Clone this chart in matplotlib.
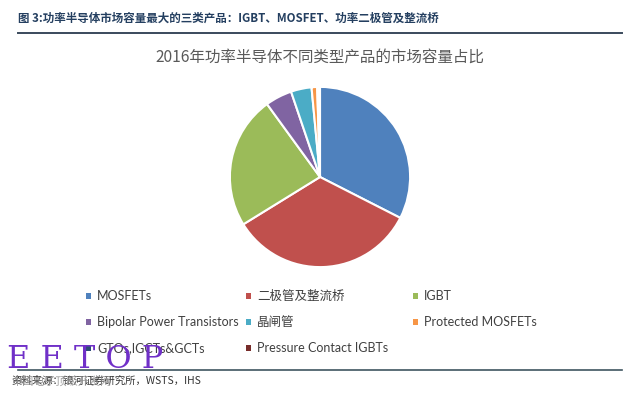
import matplotlib
matplotlib.use("Agg")
import matplotlib.pyplot as plt
from matplotlib.patches import Rectangle

# 2016 power semiconductor market share by product type
labels = ["MOSFETs", "二极管及整流桥", "IGBT", "Bipolar Power Transistors",
          "晶闸管", "Protected MOSFETs", "GTOs,IGCTs&GCTs", "Pressure Contact IGBTs"]
shares = [32.5, 33.7, 23.8, 4.8, 3.7, 1.0, 0.3, 0.2]
colors = ["#4F81BD", "#C0504D", "#9BBB59", "#8064A2",
          "#4BACC6", "#F79646", "#2C4D75", "#772C2A"]

header = "图 3:功率半导体市场容量最大的三类产品：IGBT、MOSFET、功率二极管及整流桥"
title = "2016年功率半导体不同类型产品的市场容量占比"
source = "资料来源：银河证券研究所，WSTS，IHS"

cjk = ["Noto Sans CJK SC", "DejaVu Sans"]
latin = ["Lato", "Noto Sans CJK SC"]

fig = plt.figure(figsize=(6.4, 3.96), dpi=100)
W, H = 640, 396

def fx(px):
    return px / W

def fy(py):
    return 1 - py / H

# header and rules
fig.text(fx(18), fy(18), header, family=cjk, fontsize=8.3, fontweight="bold",
         color="#243F60", va="center", ha="left")
fig.add_artist(plt.Line2D([fx(18), fx(622)], [fy(33), fy(33)], color="#3A4A5C", lw=1.4))
fig.add_artist(plt.Line2D([fx(18), fx(622)], [fy(370), fy(370)], color="#3E5560", lw=1.2))

fig.text(0.5, fy(57), title, family=cjk, fontsize=11.2, color="#595959",
         ha="center", va="center")

# pie
ax = fig.add_axes([fx(229), fy(268), fx(182), 182 / H])
wedges, _ = ax.pie(shares, colors=colors, startangle=90, counterclock=False,
                   wedgeprops=dict(edgecolor="white", linewidth=1.5))
ax.set_xlim(-1.01, 1.01)
ax.set_ylim(-1.01, 1.01)
ax.set_aspect("equal")
ax.axis("off")

# legend, three columns filled row by row
col_x = [88, 248, 415]
row_y = [296, 322, 348]
for i, (lab, c) in enumerate(zip(labels, colors)):
    x, y = col_x[i % 3], row_y[i // 3]
    fig.add_artist(Rectangle((fx(x - 2.5), fy(y + 2.5)), fx(5.5), 5.5 / H,
                             facecolor=c, edgecolor="none"))
    fig.text(fx(x + 9), fy(y), lab, family=latin, fontsize=9, color="#404040",
             va="center", ha="left")

# source line and watermark
fig.text(fx(12), fy(381), source, family=cjk, fontsize=7.5, color="#333333",
         style="italic", va="center", ha="left")
fig.text(fx(12), fy(381), "中国电子顶级开发网", family=cjk, fontsize=8, color="#8A8A8A",
         alpha=0.8, va="center", ha="left")
fig.text(fx(7), fy(359), "E E T O P", family=["DejaVu Serif"], fontsize=23,
         color="#7030C8", va="center", ha="left")

fig.savefig("out.png", dpi=100)
